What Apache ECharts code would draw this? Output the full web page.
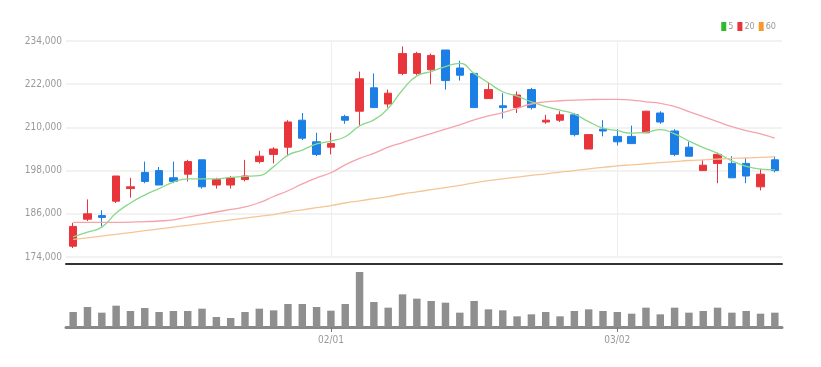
<!DOCTYPE html>
<html>
<head>
<meta charset="utf-8">
<script src="https://cdn.jsdelivr.net/npm/echarts@6/dist/echarts.min.js"></script>
<style>
  html, body { margin: 0; padding: 0; background: #fff; }
  #chart { width: 821px; height: 367px; }
</style>
</head>
<body>
<div id="chart"></div>
<script>
var dates = [
  '01/06', '01/07', '01/08', '01/11', '01/12', '01/13', '01/14', '01/15', '01/18', '01/19',
  '01/20', '01/21', '01/22', '01/25', '01/26', '01/27', '01/28', '01/29',
  '02/01', '02/02', '02/03', '02/04', '02/05', '02/08', '02/09', '02/10', '02/11', '02/12',
  '02/15', '02/16', '02/17', '02/18', '02/19', '02/22', '02/23', '02/24', '02/25', '02/26',
  '03/02', '03/03', '03/04', '03/05', '03/08', '03/09', '03/10', '03/11', '03/12', '03/15',
  '03/16', '03/17'
];

// [open, close, low, high]
var candles = [
  [177000, 182500, 176500, 183500], [184500, 186000, 184000, 190000], [185500, 185000, 182500, 187000],
  [189500, 196500, 189000, 196500], [193000, 193500, 190500, 196000], [197500, 195000, 194500, 200500],
  [198000, 194000, 194000, 199000], [196000, 195000, 194500, 200500], [197000, 200500, 195000, 201000],
  [201000, 193500, 193000, 201000], [194000, 195500, 193000, 196000], [194000, 196000, 193000, 196500],
  [195500, 196500, 195000, 201000], [200500, 202000, 200000, 203500], [202500, 204000, 200000, 204500],
  [204500, 211500, 202000, 212000], [212000, 207000, 206500, 214000], [206000, 202500, 202000, 208500],
  [204500, 205500, 202500, 208500], [213000, 212000, 211000, 213500], [214500, 223500, 210500, 225500],
  [221000, 215500, 215500, 225000], [216500, 219500, 215500, 220500], [225000, 230500, 224500, 232500],
  [225000, 230500, 224500, 231000], [226000, 230000, 222000, 230500], [231500, 223000, 220500, 231500],
  [226500, 224500, 223000, 228500], [225000, 215500, 215500, 225000], [218000, 220500, 218000, 222500],
  [216000, 215500, 212500, 219500], [215500, 219000, 214000, 220000], [220500, 215500, 215000, 221000],
  [211500, 212000, 211000, 213500], [212000, 213500, 211500, 214500], [213500, 208000, 207500, 214000],
  [204000, 208000, 204000, 208000], [209500, 209000, 207500, 212000], [207500, 206000, 205000, 209500],
  [207500, 205500, 205500, 210500], [208500, 214500, 208500, 214500], [214000, 211500, 211000, 214500],
  [209000, 202500, 202000, 209500], [204500, 202000, 202000, 206000], [198000, 199500, 198000, 201000],
  [200000, 202500, 194500, 203000], [200000, 196000, 196000, 202000], [200000, 196500, 194500, 201500],
  [193500, 197000, 192500, 198500], [201000, 198000, 197500, 202000]
];

var ma5 = [
  179600, 180900, 182300, 186200, 189000, 191200, 193000, 194800, 195700, 195700,
  195700, 196100, 196400, 196600, 199100, 202300, 203700, 205400, 206200, 207400,
  210400, 212100, 215300, 220400, 224300, 225500, 226900, 227800, 225000, 222400,
  219900, 218700, 217100, 215800, 214800, 213700, 211600, 209800, 209100, 208400,
  208600, 209400, 208200, 206200, 204400, 202800, 200700, 199200, 198400, 198200
];

var ma20 = [
  183600, 183600, 183600, 183600, 183700, 183800, 184000, 184300, 185100, 185800,
  186500, 187200, 187900, 189100, 190800, 192400, 194300, 196000, 197400, 199600,
  201400, 202800, 204500, 205800, 207100, 208300, 209500, 210700, 212100, 213200,
  214100, 215300, 216500, 217100, 217400, 217600, 217700, 217800, 217800, 217600,
  217100, 216700, 215800, 214400, 213000, 211600, 210200, 209100, 208200, 207000
];

var ma60 = [
  178900, 179300, 179800, 180300, 180800, 181300, 181800, 182300, 182800, 183300,
  183800, 184300, 184800, 185300, 185800, 186500, 187100, 187700, 188300, 189000,
  189600, 190200, 190800, 191500, 192100, 192700, 193300, 193900, 194600, 195200,
  195700, 196200, 196700, 197100, 197600, 198000, 198500, 198900, 199300, 199600,
  199900, 200200, 200500, 200800, 201000, 201200, 201400, 201500, 201700, 201800
];

var volumes = [
  450000, 600000, 430000, 640000, 480000, 570000, 450000, 480000, 480000, 550000,
  300000, 270000, 450000, 550000, 500000, 690000, 690000, 600000, 490000, 690000,
  1650000, 750000, 580000, 980000, 850000, 780000, 730000, 430000, 780000, 530000,
  500000, 320000, 380000, 450000, 320000, 480000, 530000, 480000, 450000, 400000,
  580000, 380000, 580000, 430000, 480000, 580000, 430000, 480000, 400000, 430000
];

var priceTicks = { min: 174000, max: 234000, step: 12000 };

var narrow = "'Liberation Sans Narrow', 'DejaVu Sans Condensed', sans-serif";
var upColor = '#e8353b';
var downColor = '#1b7fe6';

function monthStart(i) {
  return i > 0 && dates[i].slice(0, 2) !== dates[i - 1].slice(0, 2);
}

var chart = echarts.init(document.getElementById('chart'));

var option = {
  animation: false,
  backgroundColor: '#fff',
  legend: {
    right: 40,
    top: 17,
    icon: 'rect',
    itemWidth: 5,
    itemHeight: 9,
    itemGap: 4,
    textStyle: { color: '#999', fontSize: 9, fontFamily: narrow, padding: [0, 0, 0, -3] },
    data: ['5', '20', '60']
  },
  grid: [
    { left: 66, right: 39, top: 41, height: 216 },
    { left: 66, right: 39, top: 267, height: 60 }
  ],
  xAxis: [
    {
      type: 'category',
      data: dates,
      gridIndex: 0,
      boundaryGap: true,
      offset: 7,
      axisLine: { lineStyle: { color: '#333', width: 2 } },
      axisTick: { show: false },
      axisLabel: { show: false },
      splitLine: {
        show: true,
        alignWithLabel: true,
        interval: function (i) { return monthStart(i); },
        lineStyle: { color: '#eee', width: 1 }
      }
    },
    {
      type: 'category',
      data: dates,
      gridIndex: 1,
      boundaryGap: true,
      axisLine: { lineStyle: { color: '#888', width: 3 } },
      axisTick: {
        show: true,
        alignWithLabel: true,
        length: 5,
        interval: function (i) { return monthStart(i); },
        lineStyle: { color: '#777' }
      },
      axisLabel: {
        color: '#999',
        fontSize: 10,
        fontFamily: narrow,
        margin: 8,
        interval: function (i) { return monthStart(i); }
      },
      splitLine: { show: false }
    }
  ],
  yAxis: [
    {
      type: 'value',
      gridIndex: 0,
      min: priceTicks.min,
      max: priceTicks.max,
      interval: priceTicks.step,
      axisLine: { show: false },
      axisTick: { show: false },
      axisLabel: {
        color: '#999',
        fontSize: 10,
        fontFamily: narrow,
        margin: 4,
        formatter: function (v) { return v.toLocaleString('en-US'); }
      },
      splitLine: { lineStyle: { color: '#eee', width: 1.5 } }
    },
    {
      type: 'value',
      gridIndex: 1,
      min: 0,
      max: 1800000,
      axisLine: { show: false },
      axisTick: { show: false },
      axisLabel: { show: false },
      splitLine: { show: false }
    }
  ],
  series: [
    {
      name: 'candle',
      type: 'candlestick',
      xAxisIndex: 0,
      yAxisIndex: 0,
      data: candles,
      barWidth: '55%',
      itemStyle: {
        color: upColor,
        color0: downColor,
        borderColor: upColor,
        borderColor0: downColor,
        borderWidth: 1
      }
    },
    {
      name: '5',
      type: 'line',
      data: ma5,
      smooth: true,
      showSymbol: false,
      itemStyle: { color: '#2dbb2d' },
      lineStyle: { color: '#8ad88a', width: 1.3 }
    },
    {
      name: '20',
      type: 'line',
      data: ma20,
      smooth: true,
      showSymbol: false,
      itemStyle: { color: '#e8353b' },
      lineStyle: { color: '#f5a3aa', width: 1.3 }
    },
    {
      name: '60',
      type: 'line',
      data: ma60,
      smooth: true,
      showSymbol: false,
      itemStyle: { color: '#f59a2e' },
      lineStyle: { color: '#f6c595', width: 1.3 }
    },
    {
      name: 'volume',
      type: 'bar',
      xAxisIndex: 1,
      yAxisIndex: 1,
      data: volumes,
      barWidth: '52%',
      itemStyle: { color: '#8f8f8f' }
    }
  ]
};

chart.setOption(option);
</script>
</body>
</html>
